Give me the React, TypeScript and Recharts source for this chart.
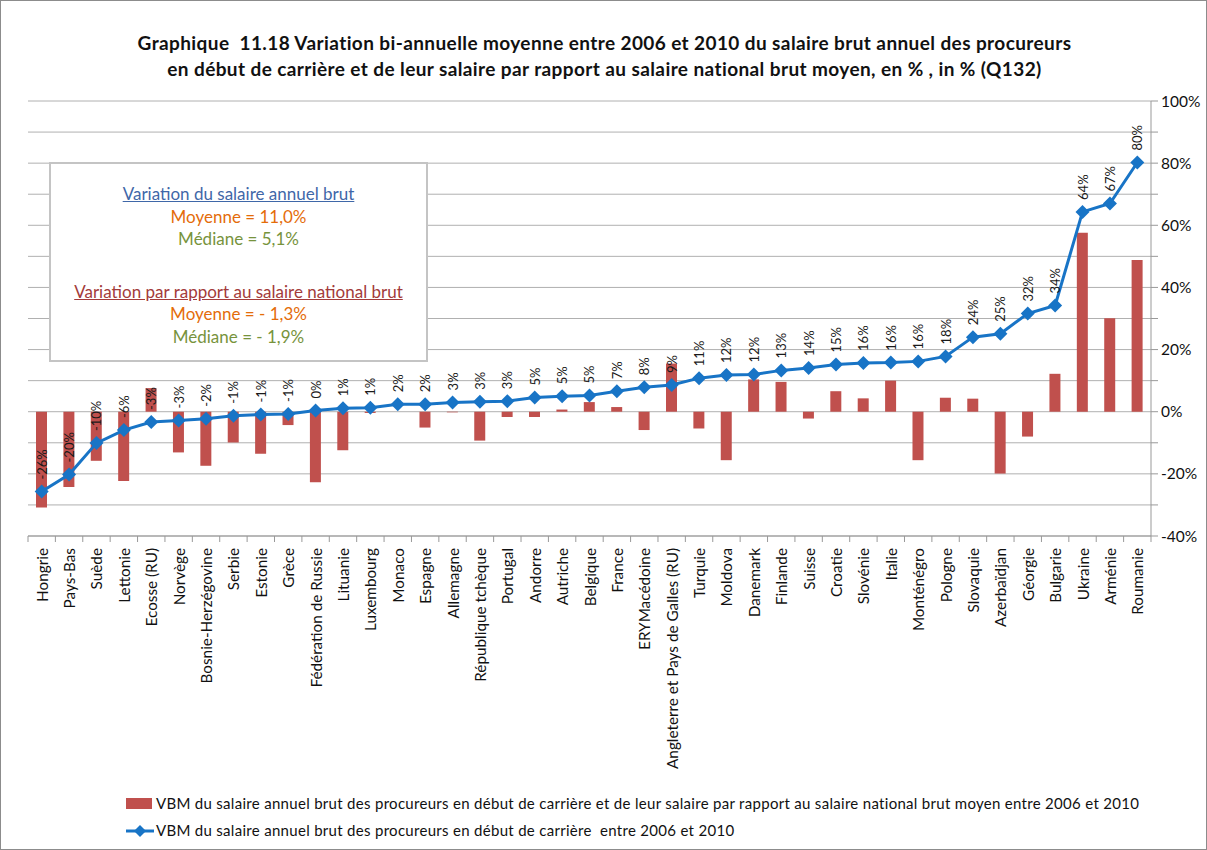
import React from "react";
import {
  ComposedChart,
  Bar,
  Line,
  XAxis,
  YAxis,
  CartesianGrid,
  LabelList,
} from "recharts";

// Pays, dans l'ordre croissant de la variation du salaire
const countries = [
  "Hongrie",
  "Pays-Bas",
  "Suède",
  "Lettonie",
  "Ecosse (RU)",
  "Norvège",
  "Bosnie-Herzégovine",
  "Serbie",
  "Estonie",
  "Grèce",
  "Fédération de Russie",
  "Lituanie",
  "Luxembourg",
  "Monaco",
  "Espagne",
  "Allemagne",
  "République tchèque",
  "Portugal",
  "Andorre",
  "Autriche",
  "Belgique",
  "France",
  "ERYMacédoine",
  "Angleterre et Pays de Galles (RU)",
  "Turquie",
  "Moldova",
  "Danemark",
  "Finlande",
  "Suisse",
  "Croatie",
  "Slovénie",
  "Italie",
  "Monténégro",
  "Pologne",
  "Slovaquie",
  "Azerbaïdjan",
  "Géorgie",
  "Bulgarie",
  "Ukraine",
  "Arménie",
  "Roumanie",
];

// VBM du salaire annuel brut (ligne)
const salaryVariation = [
  -25.7, -20.2, -10.1, -5.9, -3.3, -2.8, -2.3, -1.3, -0.9, -0.7, 0.4, 1.1, 1.3,
  2.4, 2.4, 3.0, 3.2, 3.4, 4.6, 5.0, 5.2, 6.6, 7.9, 8.6, 10.8, 11.8, 12.0, 13.3,
  14.1, 15.2, 15.7, 15.8, 16.2, 17.8, 24.0, 25.1, 31.6, 34.2, 64.3, 67.0, 80.2,
];

// VBM par rapport au salaire national brut moyen (barres)
const ratioVariation = [
  -30.8, -24.2, -15.8, -22.3, 7.6, -13.1, -17.4, -9.9, -13.5, -4.3, -22.7,
  -12.4, -0.4, 0, -5.1, -0.2, -9.3, -1.7, -1.7, 0.7, 3.1, 1.5, -5.9, 15.5, -5.4,
  -15.6, 10.4, 9.6, -2.2, 6.6, 4.3, 10.0, -15.6, 4.5, 4.2, -19.9, -8.0, 12.2,
  57.6, 30.1, 48.8,
];

const yTicks = [-40, -30, -20, -10, 0, 10, 20, 30, 40, 50, 60, 70, 80, 90, 100];

const barName =
  "VBM du salaire annuel brut des procureurs en début de carrière et de leur salaire par rapport au salaire national brut moyen entre 2006 et 2010";
const lineName =
  "VBM du salaire annuel brut des procureurs en début de carrière  entre 2006 et 2010";

const FONT = "Lato, 'Noto Sans', sans-serif";
const PLOT_LEFT = 28;
const PLOT_RIGHT = 1151;
const HALF_BAND = (PLOT_RIGHT - PLOT_LEFT) / countries.length / 2;

const BLUE = "#1874c6";
const RED = "#c0504d";

const rows = countries.map((country, i) => ({
  country,
  ratio: ratioVariation[i],
  salary: salaryVariation[i],
}));

const renderDiamond = (props: any) => {
  const { cx, cy, index } = props;
  if (cx == null || cy == null) return <g key={index} />;
  const r = 7;
  return (
    <polygon
      key={index}
      points={`${cx},${cy - r} ${cx + r},${cy} ${cx},${cy + r} ${cx - r},${cy}`}
      fill={BLUE}
    />
  );
};

const renderLineLabel = (props: any) => {
  const { x, y, value } = props;
  const ty = y - 12;
  return (
    <text
      x={x}
      y={ty}
      transform={`rotate(-90 ${x} ${ty})`}
      textAnchor="start"
      dominantBaseline="central"
      fontSize={13}
      fontFamily={FONT}
      fill="#1a1a1a"
    >
      {`${Math.round(value)}%`}
    </text>
  );
};

const CategoryTick = (props: any) => {
  const { x, y, payload, index } = props;
  const axisY = y - 12;
  return (
    <g>
      <line
        x1={x - HALF_BAND}
        x2={x - HALF_BAND}
        y1={axisY}
        y2={axisY + 6}
        stroke="#999"
      />
      {index === countries.length - 1 && (
        <line
          x1={x + HALF_BAND}
          x2={x + HALF_BAND}
          y1={axisY}
          y2={axisY + 6}
          stroke="#999"
        />
      )}
      <text
        x={x}
        y={y}
        transform={`rotate(-90 ${x} ${y})`}
        textAnchor="end"
        dominantBaseline="central"
        fontSize={15.3}
        fontFamily={FONT}
        fill="#111"
      >
        {payload.value}
      </text>
    </g>
  );
};

const insetLine = (color: string, underline = false): React.CSSProperties => ({
  color,
  textDecoration: underline ? "underline" : "none",
  height: 22.5,
});

export default function App() {
  return (
    <div
      style={{
        position: "fixed",
        left: 0,
        top: 0,
        width: 1207,
        height: 850,
        background: "#fff",
        border: "1px solid #8c8c8c",
        boxSizing: "border-box",
        fontFamily: FONT,
        overflow: "hidden",
      }}
    >
      <div
        style={{
          position: "absolute",
          left: 0,
          top: 29,
          width: 1207,
          textAlign: "center",
          fontWeight: 700,
          fontSize: 19,
          letterSpacing: 0.4,
          lineHeight: "26px",
          color: "#111",
        }}
      >
        Graphique&nbsp;&nbsp;11.18 Variation bi-annuelle moyenne entre 2006 et
        2010 du salaire brut annuel des procureurs
        <br />
        en début de carrière et de leur salaire par rapport au salaire national
        brut moyen, en % , in % (Q132)
      </div>

      <div style={{ position: "absolute", left: -1, top: -1 }}>
        <ComposedChart
          width={1207}
          height={850}
          data={rows}
          margin={{ top: 101, right: 0, left: PLOT_LEFT, bottom: 0 }}
          barGap={0}
        >
          <CartesianGrid vertical={false} stroke="#b0b0b0" />
          <XAxis
            dataKey="country"
            height={314}
            interval={0}
            tickLine={false}
            tickSize={0}
            tickMargin={12}
            axisLine={{ stroke: "#999" }}
            tick={<CategoryTick />}
          />
          <YAxis
            orientation="right"
            width={56}
            domain={[-40, 100]}
            ticks={yTicks}
            interval={0}
            tickSize={7}
            tickMargin={3}
            axisLine={{ stroke: "#999" }}
            tickLine={{ stroke: "#999" }}
            tick={{
              fill: "#111",
              fontSize: 15.5,
              fontFamily: FONT,
              textAnchor: "start",
            }}
            tickFormatter={(v: number) => (v % 20 === 0 ? `${v}%` : "")}
          />
          <Bar
            dataKey="ratio"
            name={barName}
            fill={RED}
            barSize={11}
            isAnimationActive={false}
          />
          <Line
            dataKey="salary"
            name={lineName}
            stroke={BLUE}
            strokeWidth={3}
            dot={renderDiamond}
            activeDot={false}
            isAnimationActive={false}
          >
            <LabelList dataKey="salary" content={renderLineLabel} />
          </Line>
        </ComposedChart>
      </div>

      {/* Encadré des moyennes et médianes */}
      <div
        style={{
          position: "absolute",
          left: 48,
          top: 161,
          width: 379,
          height: 200,
          boxSizing: "border-box",
          border: "2px solid #c4c4c4",
          background: "#fff",
          textAlign: "center",
          fontSize: 17,
          lineHeight: "22.5px",
          paddingTop: 19,
        }}
      >
        <div style={insetLine("#3f67a8", true)}>
          Variation du salaire annuel brut
        </div>
        <div style={insetLine("#e46c0a")}>Moyenne = 11,0%</div>
        <div style={insetLine("#77933c")}>Médiane = 5,1%</div>
        <div style={{ height: 30 }} />
        <div style={insetLine("#a33b3a", true)}>
          Variation par rapport au salaire national brut
        </div>
        <div style={insetLine("#e46c0a")}>Moyenne = - 1,3%</div>
        <div style={insetLine("#77933c")}>Médiane = - 1,9%</div>
      </div>

      {/* Légende */}
      <div
        style={{
          position: "absolute",
          left: 125,
          top: 789,
          fontSize: 15,
          letterSpacing: 0.3,
          color: "#111",
          lineHeight: "27px",
          whiteSpace: "pre",
        }}
      >
        <div style={{ display: "flex", alignItems: "center" }}>
          <span
            style={{
              display: "inline-block",
              width: 26,
              height: 11,
              background: RED,
              marginRight: 4,
            }}
          />
          {barName}
        </div>
        <div style={{ display: "flex", alignItems: "center" }}>
          <svg width={28} height={14} style={{ marginRight: 2 }}>
            <line x1={0} x2={28} y1={7} y2={7} stroke={BLUE} strokeWidth={3} />
            <polygon points="14,1 20,7 14,13 8,7" fill={BLUE} />
          </svg>
          {lineName}
        </div>
      </div>
    </div>
  );
}
